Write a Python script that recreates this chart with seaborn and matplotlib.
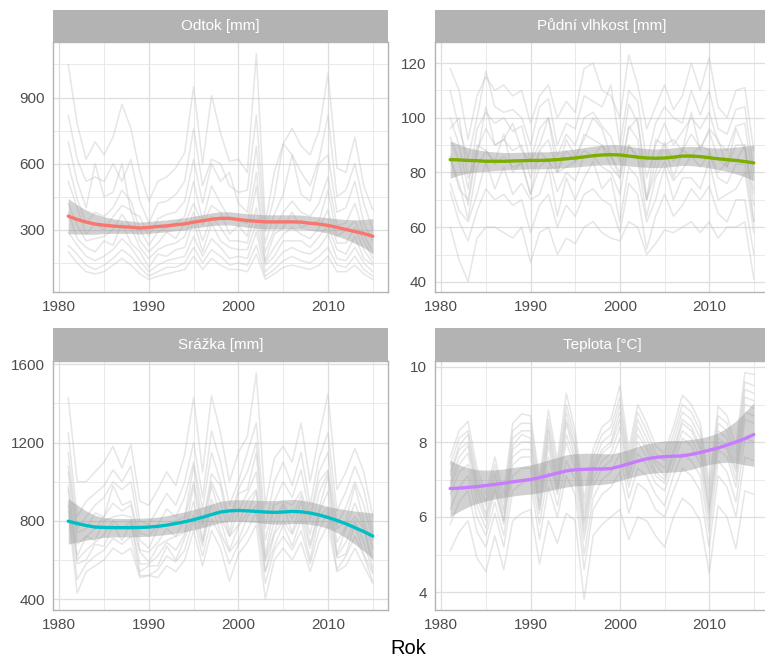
import numpy as np
import pandas as pd
import matplotlib
matplotlib.use("Agg")
import matplotlib.pyplot as plt
import seaborn as sns
from matplotlib.ticker import FixedLocator

# ---------------- data ----------------
years = list(range(1981, 2016))

# Odtok [mm] - individual catchments
odtok_01 = [1050, 780, 620, 700, 640, 720, 870, 760, 560, 430, 520, 540, 580, 650, 950, 600, 910, 740, 610, 620, 560, 1100, 330, 560, 690, 760, 680, 640, 750, 1010, 580, 560, 720, 500, 390]
odtok_02 = [820, 620, 520, 540, 520, 600, 520, 620, 430, 330, 420, 430, 460, 520, 760, 500, 620, 600, 500, 470, 480, 820, 290, 450, 690, 640, 560, 500, 620, 820, 450, 480, 600, 420, 300]
odtok_03 = [700, 520, 400, 600, 450, 470, 600, 380, 360, 270, 350, 370, 380, 430, 620, 420, 600, 520, 560, 420, 380, 680, 240, 370, 460, 640, 460, 430, 600, 640, 380, 400, 520, 330, 250]
odtok_04 = [600, 440, 330, 380, 360, 400, 480, 430, 300, 230, 290, 310, 330, 360, 520, 340, 500, 420, 350, 340, 330, 560, 200, 300, 380, 430, 380, 360, 420, 540, 320, 330, 420, 280, 200]
odtok_05 = [520, 400, 280, 330, 300, 360, 410, 390, 250, 200, 240, 290, 260, 330, 420, 320, 410, 380, 280, 320, 270, 500, 160, 280, 310, 380, 310, 330, 340, 480, 270, 300, 340, 250, 170]
odtok_06 = [420, 320, 250, 260, 270, 300, 370, 310, 220, 170, 210, 230, 240, 270, 380, 250, 360, 310, 250, 250, 240, 400, 150, 220, 280, 310, 280, 260, 310, 390, 240, 240, 310, 210, 150]
odtok_07 = [380, 260, 220, 200, 250, 230, 330, 240, 200, 130, 190, 180, 210, 220, 340, 200, 330, 250, 220, 210, 210, 330, 140, 180, 250, 250, 250, 220, 270, 320, 210, 190, 270, 170, 140]
odtok_08 = [290, 230, 180, 160, 180, 210, 260, 220, 160, 110, 140, 160, 170, 180, 270, 180, 260, 220, 170, 180, 170, 290, 110, 150, 200, 220, 200, 190, 220, 280, 170, 160, 220, 150, 110]
odtok_09 = [230, 190, 140, 120, 140, 170, 210, 180, 130, 90, 110, 130, 130, 150, 220, 150, 210, 180, 140, 150, 140, 230, 90, 120, 160, 180, 160, 150, 180, 220, 140, 130, 180, 120, 90]
odtok_10 = [200, 150, 110, 100, 110, 140, 170, 140, 100, 75, 90, 100, 110, 120, 180, 120, 170, 140, 120, 120, 110, 190, 75, 100, 130, 140, 130, 120, 140, 180, 110, 110, 140, 100, 75]
odtok_smooth = [362, 347, 335, 326, 321, 317, 314, 312, 308, 311, 315, 318, 323, 327, 335, 341, 348, 352, 352, 347, 342, 339, 336, 336, 336, 336, 335, 330, 326, 320, 311, 302, 292, 283, 271]
odtok_se = [80, 66, 55, 46, 38, 33, 30, 28, 27, 27, 27, 27, 27, 27, 27, 28, 29, 30, 30, 30, 31, 32, 32, 32, 32, 32, 32, 32, 33, 35, 39, 45, 53, 64, 80]

# Půdní vlhkost [mm]
vlhkost_01 = [118, 110, 92, 108, 115, 110, 112, 108, 110, 98, 108, 112, 100, 106, 102, 118, 120, 110, 108, 100, 123, 112, 96, 104, 112, 103, 108, 120, 110, 122, 104, 100, 110, 111, 88]
vlhkost_02 = [110, 96, 85, 100, 117, 104, 102, 103, 100, 90, 104, 107, 90, 98, 96, 108, 106, 104, 112, 90, 110, 106, 84, 98, 104, 100, 98, 110, 101, 110, 96, 94, 103, 104, 80]
vlhkost_03 = [100, 90, 74, 96, 102, 98, 100, 95, 97, 84, 96, 100, 86, 94, 90, 100, 102, 97, 93, 84, 105, 98, 78, 90, 98, 90, 95, 100, 96, 102, 91, 88, 97, 98, 74]
vlhkost_04 = [96, 100, 78, 86, 104, 90, 92, 98, 88, 84, 90, 100, 80, 92, 86, 92, 100, 96, 86, 80, 96, 100, 70, 92, 90, 92, 88, 102, 88, 96, 92, 82, 96, 88, 72]
vlhkost_05 = [93, 84, 68, 88, 96, 90, 92, 88, 90, 78, 88, 92, 80, 88, 84, 94, 92, 90, 86, 78, 97, 92, 70, 84, 91, 84, 88, 94, 89, 95, 85, 82, 90, 90, 68]
vlhkost_06 = [86, 74, 70, 90, 88, 84, 94, 80, 84, 72, 88, 84, 80, 82, 84, 88, 86, 90, 82, 78, 90, 86, 70, 80, 90, 78, 88, 86, 90, 88, 80, 84, 84, 90, 62]
vlhkost_07 = [85, 76, 63, 82, 88, 83, 86, 82, 83, 72, 82, 85, 73, 80, 77, 86, 86, 82, 80, 72, 90, 85, 64, 78, 84, 77, 81, 86, 82, 87, 78, 76, 83, 83, 62]
vlhkost_08 = [76, 66, 62, 72, 84, 74, 82, 72, 76, 70, 72, 82, 64, 78, 70, 78, 84, 74, 78, 62, 82, 78, 62, 70, 82, 70, 78, 78, 74, 84, 70, 72, 74, 80, 58]
vlhkost_09 = [73, 62, 55, 66, 74, 70, 72, 68, 70, 58, 68, 72, 60, 68, 64, 72, 74, 70, 68, 58, 76, 72, 52, 64, 72, 64, 68, 74, 70, 75, 65, 62, 70, 70, 50]
vlhkost_10 = [60, 48, 40, 56, 60, 60, 58, 56, 60, 47, 58, 60, 50, 56, 54, 60, 62, 58, 56, 55, 62, 60, 50, 54, 59, 58, 60, 62, 58, 62, 56, 60, 60, 62, 41]
vlhkost_smooth = [84.7, 84.6, 84.4, 84.3, 84.1, 84.1, 84.1, 84.2, 84.3, 84.4, 84.4, 84.5, 84.7, 85.0, 85.3, 85.7, 86.1, 86.4, 86.5, 86.4, 86.0, 85.6, 85.3, 85.2, 85.3, 85.6, 86.0, 86.0, 85.8, 85.4, 85.0, 84.7, 84.4, 84.0, 83.5]
vlhkost_se = [6.8, 5.6, 4.6, 4.0, 3.7, 3.4, 3.2, 3.1, 3.1, 3.1, 3.1, 3.1, 3.1, 3.2, 3.3, 3.4, 3.5, 3.6, 3.7, 3.7, 3.6, 3.5, 3.4, 3.4, 3.4, 3.4, 3.4, 3.5, 3.6, 3.7, 3.9, 4.3, 4.9, 5.6, 6.5]

# Srážka [mm]
srazka_01 = [1430, 1000, 1000, 1050, 1100, 1180, 1070, 1190, 900, 880, 960, 1050, 980, 1140, 1430, 1050, 1440, 1250, 1000, 1150, 1230, 1555, 880, 1120, 1180, 1100, 1300, 1000, 1230, 1450, 960, 1050, 1170, 1050, 820]
srazka_02 = [1250, 820, 900, 940, 980, 1060, 1000, 1080, 800, 780, 860, 940, 880, 1000, 1200, 920, 1260, 1100, 880, 1000, 1150, 1300, 760, 1000, 1100, 980, 1150, 880, 1120, 1250, 850, 950, 1080, 960, 740]
srazka_03 = [1150, 760, 820, 880, 920, 1000, 960, 1000, 740, 720, 780, 860, 820, 920, 1100, 860, 1150, 1000, 800, 960, 1050, 1200, 700, 900, 1000, 920, 1060, 820, 1050, 1150, 780, 870, 1000, 880, 700]
srazka_04 = [1080, 740, 760, 840, 820, 980, 880, 900, 700, 660, 760, 780, 800, 820, 1080, 780, 1040, 980, 740, 940, 960, 1150, 620, 880, 900, 880, 950, 800, 1000, 1060, 760, 800, 980, 800, 660]
srazka_05 = [1050, 680, 720, 760, 820, 890, 850, 880, 650, 640, 690, 760, 720, 810, 1000, 770, 1000, 890, 720, 850, 940, 1050, 600, 800, 890, 810, 930, 730, 940, 1050, 690, 770, 890, 770, 600]
srazka_06 = [980, 620, 720, 700, 800, 820, 830, 820, 640, 590, 670, 700, 720, 740, 980, 700, 980, 820, 720, 780, 900, 960, 590, 740, 880, 740, 900, 680, 860, 1030, 630, 760, 820, 760, 560]
srazka_07 = [960, 600, 650, 690, 730, 800, 760, 800, 580, 580, 620, 690, 650, 730, 900, 690, 910, 800, 650, 770, 840, 950, 540, 730, 800, 730, 840, 660, 840, 950, 620, 690, 800, 690, 540]
srazka_08 = [900, 580, 600, 680, 670, 780, 700, 790, 540, 570, 570, 670, 600, 710, 830, 670, 880, 740, 640, 700, 820, 880, 540, 670, 780, 670, 810, 600, 820, 870, 610, 630, 780, 630, 530]
srazka_09 = [880, 500, 580, 620, 650, 710, 680, 720, 520, 520, 550, 620, 590, 650, 810, 620, 810, 720, 580, 680, 750, 850, 480, 650, 720, 650, 750, 580, 750, 850, 550, 620, 720, 620, 490]
srazka_10 = [850, 430, 540, 570, 600, 660, 630, 660, 510, 520, 510, 570, 540, 600, 750, 570, 750, 660, 490, 630, 690, 780, 400, 600, 660, 600, 690, 540, 690, 780, 540, 570, 660, 570, 480]
srazka_smooth = [798, 786, 776, 768, 766, 765, 765, 765, 766, 768, 772, 778, 786, 795, 806, 818, 832, 845, 851, 853, 851, 848, 845, 843, 845, 848, 846, 840, 830, 817, 802, 785, 765, 745, 722]
srazka_se = [117, 95, 75, 60, 51, 48, 47, 47, 47, 47, 47, 48, 50, 51, 52, 53, 54, 55, 55, 55, 56, 57, 58, 60, 62, 62, 60, 58, 56, 56, 62, 72, 85, 100, 117]

# Teplota [°C]
teplota_01 = [7.6, 8.3, 8.55, 7.3, 6.6, 7.6, 6.6, 8.5, 8.75, 8.7, 7.0, 8.85, 7.5, 9.3, 8.3, 6.5, 7.8, 8.4, 8.6, 9.5, 7.8, 9.0, 8.5, 7.9, 7.7, 8.4, 9.25, 9.0, 8.5, 6.9, 8.95, 8.7, 7.9, 9.85, 9.8]
teplota_02 = [7.4, 8.1, 8.3, 7.1, 6.4, 7.4, 6.4, 8.3, 8.5, 8.5, 6.8, 8.6, 7.3, 9.0, 8.1, 6.3, 7.6, 8.2, 8.4, 9.2, 7.6, 8.8, 8.3, 7.7, 7.5, 8.2, 9.0, 8.8, 8.3, 6.7, 8.7, 8.5, 7.7, 9.6, 9.5]
teplota_03 = [7.2, 7.9, 8.2, 6.9, 6.3, 7.2, 6.2, 8.1, 8.3, 8.3, 6.6, 8.4, 7.1, 8.8, 7.9, 6.1, 7.4, 8.0, 8.2, 9.0, 7.4, 8.6, 8.1, 7.5, 7.3, 8.0, 8.8, 8.6, 8.1, 6.5, 8.5, 8.3, 7.5, 9.4, 9.3]
teplota_04 = [7.1, 7.8, 8.0, 6.8, 6.1, 7.1, 6.1, 7.9, 8.2, 8.1, 6.4, 8.3, 6.9, 8.6, 7.8, 5.9, 7.3, 7.8, 8.0, 8.8, 7.3, 8.4, 7.9, 7.4, 7.1, 7.8, 8.6, 8.4, 7.9, 6.3, 8.3, 8.1, 7.3, 9.2, 9.1]
teplota_05 = [6.9, 7.6, 7.9, 6.7, 6.0, 6.9, 5.9, 7.8, 8.0, 8.0, 6.3, 8.1, 6.8, 8.5, 7.6, 5.8, 7.2, 7.7, 7.9, 8.6, 7.1, 8.2, 7.8, 7.2, 7.0, 7.7, 8.5, 8.3, 7.8, 6.2, 8.1, 7.9, 7.2, 9.0, 8.9]
teplota_06 = [6.8, 7.4, 7.7, 6.5, 5.9, 6.8, 5.9, 7.6, 7.8, 7.8, 6.2, 7.9, 6.7, 8.2, 7.5, 5.6, 7.0, 7.5, 7.7, 8.4, 7.0, 8.0, 7.6, 7.1, 6.9, 7.6, 8.3, 8.1, 7.6, 6.1, 8.0, 7.8, 7.0, 8.8, 8.7]
teplota_07 = [6.6, 7.2, 7.4, 6.3, 5.7, 6.7, 5.8, 7.4, 7.6, 7.6, 6.1, 7.6, 6.6, 8.0, 7.3, 5.4, 6.8, 7.3, 7.5, 8.1, 6.8, 7.7, 7.4, 6.9, 6.7, 7.4, 8.1, 7.9, 7.4, 5.9, 7.8, 7.6, 6.8, 8.6, 8.5]
teplota_08 = [6.2, 6.8, 7.1, 6.0, 5.5, 6.4, 5.5, 7.1, 7.3, 7.3, 5.8, 7.2, 6.3, 7.5, 7.0, 5.0, 6.5, 7.0, 7.2, 7.7, 6.5, 7.3, 7.1, 6.6, 6.3, 7.1, 7.7, 7.5, 7.1, 5.6, 7.5, 7.2, 6.4, 8.1, 8.0]
teplota_09 = [5.8, 6.4, 6.7, 5.6, 5.2, 6.1, 5.2, 6.7, 6.9, 7.0, 5.4, 6.8, 6.0, 7.1, 6.6, 4.6, 6.2, 6.6, 6.8, 7.2, 6.1, 6.9, 6.7, 6.2, 6.0, 6.7, 7.3, 7.1, 6.7, 5.2, 7.1, 6.8, 6.0, 7.6, 7.5]
teplota_10 = [5.1, 5.6, 5.9, 4.9, 4.55, 5.5, 4.6, 5.9, 6.1, 6.2, 4.75, 5.9, 5.3, 6.1, 5.9, 3.8, 5.5, 5.8, 6.0, 6.2, 5.4, 6.0, 5.9, 5.5, 5.2, 6.0, 6.5, 6.3, 5.9, 4.5, 6.3, 6.0, 5.15, 6.7, 6.6]
teplota_smooth = [6.76, 6.77, 6.79, 6.81, 6.84, 6.87, 6.90, 6.94, 6.97, 7.00, 7.05, 7.11, 7.17, 7.23, 7.26, 7.27, 7.28, 7.28, 7.29, 7.35, 7.42, 7.49, 7.55, 7.59, 7.61, 7.62, 7.63, 7.67, 7.72, 7.78, 7.84, 7.92, 8.00, 8.09, 8.20]
teplota_se = [0.75, 0.62, 0.52, 0.45, 0.41, 0.39, 0.38, 0.38, 0.38, 0.39, 0.40, 0.41, 0.42, 0.43, 0.43, 0.43, 0.42, 0.41, 0.39, 0.38, 0.38, 0.39, 0.40, 0.41, 0.42, 0.42, 0.41, 0.40, 0.38, 0.38, 0.40, 0.46, 0.56, 0.70, 0.85]

panel_titles = ["Odtok [mm]", "Půdní vlhkost [mm]", "Srážka [mm]", "Teplota [°C]"]
panel_colors = ["#F8766D", "#7CAE00", "#00BFC4", "#C77CFF"]
x_major = [1980, 1990, 2000, 2010]
x_minor = [1985, 1995, 2005, 2015]

# ---------------- figure ----------------
sns.set_theme(style="white")
plt.rcParams['font.family'] = ['Liberation Sans', 'DejaVu Sans']

W, H = 765, 660
fig = plt.figure(figsize=(W / 100, H / 100), dpi=100)

panels = [
    dict(series=[odtok_01, odtok_02, odtok_03, odtok_04, odtok_05, odtok_06, odtok_07, odtok_08, odtok_09, odtok_10],
         smooth=odtok_smooth, se=odtok_se, ylim=(18, 1152),
         ymaj=[300, 600, 900], ymin=[150, 450, 750, 1050], rect=(53, 42, 388, 292), strip=(10, 42)),
    dict(series=[vlhkost_01, vlhkost_02, vlhkost_03, vlhkost_04, vlhkost_05, vlhkost_06, vlhkost_07, vlhkost_08, vlhkost_09, vlhkost_10],
         smooth=vlhkost_smooth, se=vlhkost_se, ylim=(36.3, 127.7),
         ymaj=[40, 60, 80, 100, 120], ymin=[50, 70, 90, 110], rect=(435, 42, 769, 292), strip=(10, 42)),
    dict(series=[srazka_01, srazka_02, srazka_03, srazka_04, srazka_05, srazka_06, srazka_07, srazka_08, srazka_09, srazka_10],
         smooth=srazka_smooth, se=srazka_se, ylim=(344, 1617),
         ymaj=[400, 800, 1200, 1600], ymin=[600, 1000, 1400], rect=(53, 361, 388, 610), strip=(328, 361)),
    dict(series=[teplota_01, teplota_02, teplota_03, teplota_04, teplota_05, teplota_06, teplota_07, teplota_08, teplota_09, teplota_10],
         smooth=teplota_smooth, se=teplota_se, ylim=(3.52, 10.16),
         ymaj=[4, 6, 8, 10], ymin=[5, 7, 9], rect=(435, 361, 769, 610), strip=(328, 361)),
]

for p, title, col in zip(panels, panel_titles, panel_colors):
    x0, y0, x1, y1 = p["rect"]
    ax = fig.add_axes([x0 / W, 1 - y1 / H, (x1 - x0) / W, (y1 - y0) / H])

    rows = []
    for i, s in enumerate(p["series"]):
        for yr, v in zip(years, s):
            rows.append({"Rok": yr, "value": v, "series": i})
    df = pd.DataFrame(rows)
    sns.lineplot(data=df, x="Rok", y="value", units="series", estimator=None,
                 color="#BEBEBE", alpha=0.38, linewidth=1.1, ax=ax, legend=False)

    sm = np.array(p["smooth"], dtype=float)
    se = np.array(p["se"], dtype=float)
    ax.fill_between(years, sm - se, sm + se, color="#999999", alpha=0.45, linewidth=0, zorder=3)
    sns.lineplot(x=years, y=sm, color=col, linewidth=2.4, ax=ax, zorder=4)

    ax.set_xlim(1979.3, 2016.7)
    ax.set_ylim(*p["ylim"])
    ax.xaxis.set_major_locator(FixedLocator(x_major))
    ax.xaxis.set_minor_locator(FixedLocator(x_minor))
    ax.yaxis.set_major_locator(FixedLocator(p["ymaj"]))
    ax.yaxis.set_minor_locator(FixedLocator(p["ymin"]))
    ax.grid(which="major", color="#DEDEDE", linewidth=0.9)
    ax.grid(which="minor", color="#E6E6E6", linewidth=0.6)
    ax.set_axisbelow(True)
    ax.set_xlabel("")
    ax.set_ylabel("")
    ax.tick_params(axis="both", which="major", length=3.5, width=0.8, color="#B3B3B3",
                   labelsize=11, labelcolor="#4D4D4D", pad=2.5)
    ax.tick_params(axis="both", which="minor", length=0)
    for sp in ax.spines.values():
        sp.set_color("#B3B3B3")
        sp.set_linewidth(1.0)
    ax.set_facecolor("white")

    s0, s1 = p["strip"]
    sax = fig.add_axes([x0 / W, 1 - s1 / H, (x1 - x0) / W, (s1 - s0) / H])
    sax.set_facecolor("#B3B3B3")
    sax.set_xticks([])
    sax.set_yticks([])
    for sp in sax.spines.values():
        sp.set_visible(False)
    sax.text(0.5, 0.5, title, ha="center", va="center", color="white", fontsize=11,
             transform=sax.transAxes)

fig.text(408 / W, 1 - 648 / H, "Rok", ha="center", va="center", fontsize=14.5, color="black")

fig.savefig("out.png", dpi=100, facecolor="white")
